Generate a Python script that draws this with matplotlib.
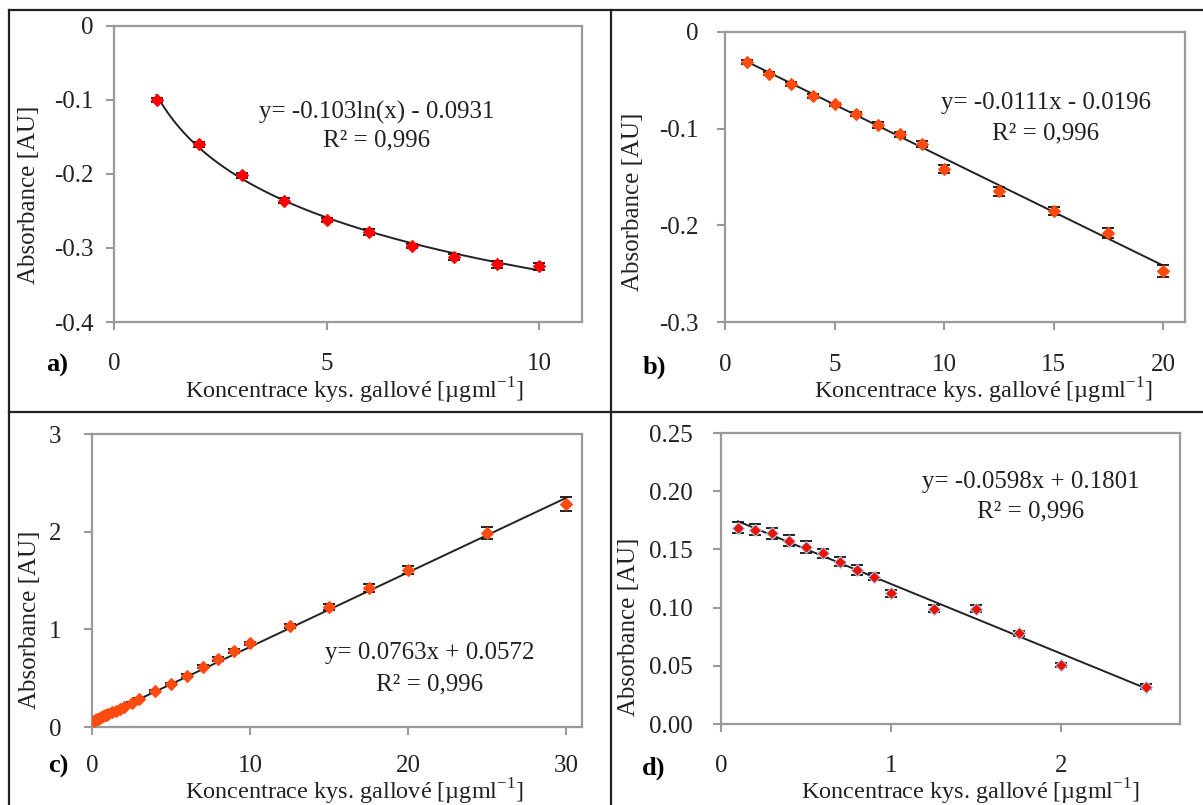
import numpy as np
import matplotlib
matplotlib.use("Agg")
import matplotlib.pyplot as plt
from matplotlib.lines import Line2D

plt.rcParams["font.family"] = ["Liberation Serif", "DejaVu Serif"]
plt.rcParams["mathtext.fontset"] = "custom"
plt.rcParams["mathtext.rm"] = "Liberation Serif"

W, H = 1203, 805

# a) logaritmicka zavislost
conc_a = [1, 2, 3, 4, 5, 6, 7, 8, 9, 10]
abs_a = [-0.100, -0.160, -0.202, -0.236, -0.262, -0.279, -0.297, -0.312, -0.322, -0.325]
err_a = [0.003, 0.003, 0.004, 0.003, 0.003, 0.004, 0.003, 0.004, 0.005, 0.005]
coef_a = (-0.103, -0.0931)

# b)
conc_b = [1, 2, 3, 4, 5, 6, 7, 8, 9, 10, 12.5, 15, 17.5, 20]
abs_b = [-0.031, -0.043, -0.054, -0.066, -0.075, -0.085, -0.096, -0.106, -0.116,
         -0.142, -0.165, -0.185, -0.208, -0.247]
err_b = [0.002, 0.002, 0.002, 0.002, 0.002, 0.002, 0.003, 0.003, 0.003,
         0.004, 0.005, 0.004, 0.005, 0.006]
coef_b = (-0.0111, -0.0196)

# c)
conc_c = [0.1, 0.2, 0.3, 0.4, 0.5, 0.6, 0.7, 0.8, 0.9, 1, 1.25, 1.5, 1.75, 2, 2.5, 3,
          4, 5, 6, 7, 8, 9, 10, 12.5, 15, 17.5, 20, 25, 30]
abs_c = [0.060, 0.070, 0.080, 0.086, 0.095, 0.102, 0.110, 0.118, 0.125, 0.132, 0.150,
         0.168, 0.186, 0.205, 0.246, 0.288, 0.370, 0.445, 0.527, 0.616, 0.700, 0.780,
         0.855, 1.037, 1.232, 1.427, 1.608, 1.984, 2.285]
err_c = [0.005] * 16 + [0.01, 0.01, 0.015, 0.015, 0.02, 0.02, 0.02,
                        0.02, 0.03, 0.04, 0.04, 0.06, 0.07]
coef_c = (0.0763, 0.0572)

# d)
conc_d = [0.1, 0.2, 0.3, 0.4, 0.5, 0.6, 0.7, 0.8, 0.9, 1.0, 1.25, 1.5, 1.75, 2.0, 2.5]
abs_d = [0.1687, 0.1670, 0.1638, 0.1575, 0.1518, 0.1466, 0.1394, 0.1323, 0.1266,
         0.1123, 0.0990, 0.0990, 0.0779, 0.0507, 0.0320]
err_d = [0.005, 0.005, 0.005, 0.005, 0.005, 0.004, 0.004, 0.004, 0.003,
         0.003, 0.003, 0.003, 0.002, 0.002, 0.002]
coef_d = (-0.0598, 0.1801)

xlabel = r"Koncentrace kys. gallové [µgml$^{\mathregular{-1}}$]"
ylabel = "Absorbance [AU]"
r2_text = "R² = 0,996"

FS = 18


def fx(x):
    return x / W


def fy(y):
    return 1 - y / H


def make_axes(fig, box):
    left, top, right, bottom = box
    return fig.add_axes([fx(left), fy(bottom), (right - left) / W, (bottom - top) / H])


def style(ax, xlim, ylim, xticks, yticks, ylabels, xpad, ypad):
    ax.set_xlim(*xlim)
    ax.set_ylim(*ylim)
    ax.set_xticks(xticks)
    ax.set_xticklabels([str(t) for t in xticks])
    ax.set_yticks(yticks)
    ax.set_yticklabels(ylabels)
    for s in ax.spines.values():
        s.set_color("#9a9a9a")
        s.set_linewidth(1.6)
    ax.tick_params(axis="both", direction="out", length=6, width=1.5, color="#9a9a9a",
                   labelsize=FS, labelcolor="#222222")
    ax.tick_params(axis="x", pad=xpad)
    ax.tick_params(axis="y", pad=ypad)
    ax.tick_params(top=False, right=False)


def plot_points(ax, x, y, e, color, edge):
    ax.errorbar(x, y, yerr=e, fmt="none", ecolor="#111111", elinewidth=1.3,
                capsize=4, capthick=1.3, zorder=3)
    ax.plot(x, y, "D", color=color, markersize=6, markeredgecolor=edge,
            markeredgewidth=0.8, zorder=4)


fig = plt.figure(figsize=(W / 100, H / 100), dpi=100)

# a)
ax = make_axes(fig, (114, 26, 582, 322))
xs = np.linspace(min(conc_a), max(conc_a), 200)
ax.plot(xs, coef_a[0] * np.log(xs) + coef_a[1], color="#222222", lw=1.4, zorder=2)
plot_points(ax, conc_a, abs_a, err_a, "#ff0000", "#ff0000")
style(ax, (0, 11), (-0.4, 0), [0, 5, 10], [-0.4, -0.3, -0.2, -0.1, 0],
      ["-0.4", "-0.3", "-0.2", "-0.1", "0"], 16, 9)

# b)
ax = make_axes(fig, (725, 32, 1185, 322))
xs = np.array([min(conc_b), max(conc_b)])
ax.plot(xs, coef_b[0] * xs + coef_b[1], color="#222222", lw=1.4, zorder=2)
plot_points(ax, conc_b, abs_b, err_b, "#ff4a10", "#ff4a10")
style(ax, (0, 21), (-0.3, 0), [0, 5, 10, 15, 20], [-0.3, -0.2, -0.1, 0],
      ["-0.3", "-0.2", "-0.1", "0"], 17, 13)

# c)
ax = make_axes(fig, (92, 434, 582, 727))
xs = np.array([0, max(conc_c)])
ax.plot(xs, coef_c[0] * xs + coef_c[1], color="#222222", lw=1.4, zorder=2)
plot_points(ax, conc_c, abs_c, err_c, "#ff4a10", "#ff4a10")
style(ax, (0, 31), (0, 3), [0, 10, 20, 30], [0, 1, 2, 3],
      ["0", "1", "2", "3"], 14, 16)

# d)
ax = make_axes(fig, (721, 433, 1180, 724))
xs = np.array([min(conc_d), max(conc_d)])
ax.plot(xs, coef_d[0] * xs + coef_d[1], color="#222222", lw=1.4, zorder=2)
plot_points(ax, conc_d, abs_d, err_d, "#ee1100", "#a9c8ea")
style(ax, (0, 2.7), (0, 0.25), [0, 1, 2], [0, 0.05, 0.10, 0.15, 0.20, 0.25],
      ["0.00", "0.05", "0.10", "0.15", "0.20", "0.25"], 16, 14)

# texty
eqs = [
    ("y= -0.103ln(x) - 0.0931", 377, 112, 140),
    ("y= -0.0111x - 0.0196", 1046, 103, 133),
    ("y= 0.0763x + 0.0572", 430, 653, 684),
    ("y= -0.0598x + 0.1801", 1031, 482, 511),
]
for txt, x, y1, y2 in eqs:
    fig.text(fx(x), fy(y1), txt, fontsize=FS, ha="center", va="center", color="#222222")
    fig.text(fx(x), fy(y2), r2_text, fontsize=FS, ha="center", va="center", color="#222222")

for lab, x, y in [("a)", 57, 365), ("b)", 654, 367), ("c)", 58, 766), ("d)", 654, 768)]:
    fig.text(fx(x), fy(y), lab, fontsize=FS + 1, fontweight="bold", ha="center", va="center")

for x, y in [(354, 391), (983, 391), (354, 792), (970, 792)]:
    fig.text(fx(x), fy(y), xlabel, fontsize=FS - 0.5, ha="center", va="center",
             color="#222222")

for x, y in [(29, 195), (633, 202), (30, 620), (629, 627)]:
    fig.text(fx(x), fy(y), ylabel, fontsize=FS, rotation=90, ha="center", va="center",
             color="#222222")

# ramecek mrizky
frame = dict(color="#222222", lw=1.6)
fig.add_artist(Line2D([fx(9), 1], [fy(10), fy(10)], **frame))
fig.add_artist(Line2D([fx(9), fx(9)], [fy(10), 0], **frame))
fig.add_artist(Line2D([fx(611), fx(611)], [fy(10), 0], **frame))
fig.add_artist(Line2D([fx(9), 1], [fy(412), fy(412)], **frame))

fig.savefig("out.png", dpi=100)
